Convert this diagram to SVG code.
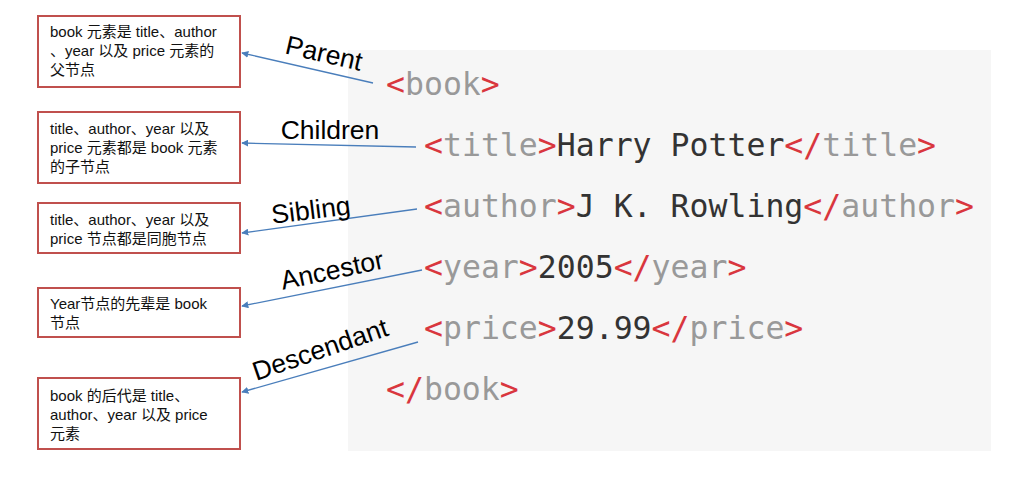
<svg xmlns="http://www.w3.org/2000/svg" width="1024" height="478" viewBox="0 0 1024 478">
<defs>
<marker id="ah" viewBox="0 0 10 10" refX="9" refY="5" markerWidth="7" markerHeight="7" orient="auto-start-reverse" markerUnits="userSpaceOnUse">
<path d="M0,0 L10,5 L0,10 z" fill="#4a7ebb"/>
</marker>
<style>
.box{fill:#fff;stroke:#c0504d;stroke-width:2}
.bt{font-family:"Liberation Sans","Noto Sans CJK SC",sans-serif;font-size:15px;fill:#111}
.conn{stroke:#4a7ebb;stroke-width:1.3;fill:none;marker-end:url(#ah)}
.lbl{font-family:"Liberation Sans",Arial,sans-serif;font-size:26.5px;fill:#000}
.code{font-family:"DejaVu Sans Mono",monospace;font-size:31.5px}
.p{fill:#d9363e}
.t{fill:#999}
.c{fill:#333}
</style>
</defs>
<rect x="0" y="0" width="1024" height="478" fill="#fff"/>
<rect id="codebg" x="348" y="50" width="643" height="401" fill="#f6f6f6"/>
<g id="code" class="code">
<text x="386" y="95"><tspan class="p">&lt;</tspan><tspan class="t">book</tspan><tspan class="p">&gt;</tspan></text>
<text x="424" y="156"><tspan class="p">&lt;</tspan><tspan class="t">title</tspan><tspan class="p">&gt;</tspan><tspan class="c">Harry Potter</tspan><tspan class="p">&lt;/</tspan><tspan class="t">title</tspan><tspan class="p">&gt;</tspan></text>
<text x="424" y="217"><tspan class="p">&lt;</tspan><tspan class="t">author</tspan><tspan class="p">&gt;</tspan><tspan class="c">J K. Rowling</tspan><tspan class="p">&lt;/</tspan><tspan class="t">author</tspan><tspan class="p">&gt;</tspan></text>
<text x="424" y="278"><tspan class="p">&lt;</tspan><tspan class="t">year</tspan><tspan class="p">&gt;</tspan><tspan class="c">2005</tspan><tspan class="p">&lt;/</tspan><tspan class="t">year</tspan><tspan class="p">&gt;</tspan></text>
<text x="424" y="339"><tspan class="p">&lt;</tspan><tspan class="t">price</tspan><tspan class="p">&gt;</tspan><tspan class="c">29.99</tspan><tspan class="p">&lt;/</tspan><tspan class="t">price</tspan><tspan class="p">&gt;</tspan></text>
<text x="386" y="400"><tspan class="p">&lt;/</tspan><tspan class="t">book</tspan><tspan class="p">&gt;</tspan></text>
</g>
<g id="n-parent">
<rect class="box" x="38" y="16" width="202" height="71"/>
<text class="bt" x="50" y="37">book 元素是 title、author</text>
<text class="bt" x="50" y="56">、year 以及 price 元素的</text>
<text class="bt" x="50" y="75">父节点</text>
</g>
<g id="n-children">
<rect class="box" x="38" y="112" width="202" height="71"/>
<text class="bt" x="50" y="134">title、author、year 以及</text>
<text class="bt" x="50" y="153">price 元素都是 book 元素</text>
<text class="bt" x="50" y="172">的子节点</text>
</g>
<g id="n-sibling">
<rect class="box" x="38" y="203" width="202" height="50"/>
<text class="bt" x="50" y="225">title、author、year 以及</text>
<text class="bt" x="50" y="244">price 节点都是同胞节点</text>
</g>
<g id="n-ancestor">
<rect class="box" x="38" y="288" width="202" height="49"/>
<text class="bt" x="50" y="309">Year节点的先辈是 book</text>
<text class="bt" x="50" y="328">节点</text>
</g>
<g id="n-descendant">
<rect class="box" x="38" y="378" width="202" height="71"/>
<text class="bt" x="50" y="401">book 的后代是 title、</text>
<text class="bt" x="50" y="420">author、year 以及 price</text>
<text class="bt" x="50" y="439">元素</text>
</g>
<g id="connectors">
<line class="conn" x1="373" y1="83" x2="242" y2="53"/>
<line class="conn" x1="416" y1="147" x2="242" y2="143"/>
<line class="conn" x1="417" y1="209" x2="242" y2="233"/>
<line class="conn" x1="422" y1="270" x2="242" y2="306"/>
<line class="conn" x1="418" y1="342" x2="242" y2="392"/>
<text class="lbl" transform="translate(322,62) rotate(13)" text-anchor="middle">Parent</text>
<text class="lbl" x="330" y="139" text-anchor="middle">Children</text>
<text class="lbl" transform="translate(312,219) rotate(-7)" text-anchor="middle">Sibling</text>
<text class="lbl" transform="translate(334,279) rotate(-12)" text-anchor="middle">Ancestor</text>
<text class="lbl" transform="translate(323,358) rotate(-19)" text-anchor="middle">Descendant</text>
</g>
</svg>
